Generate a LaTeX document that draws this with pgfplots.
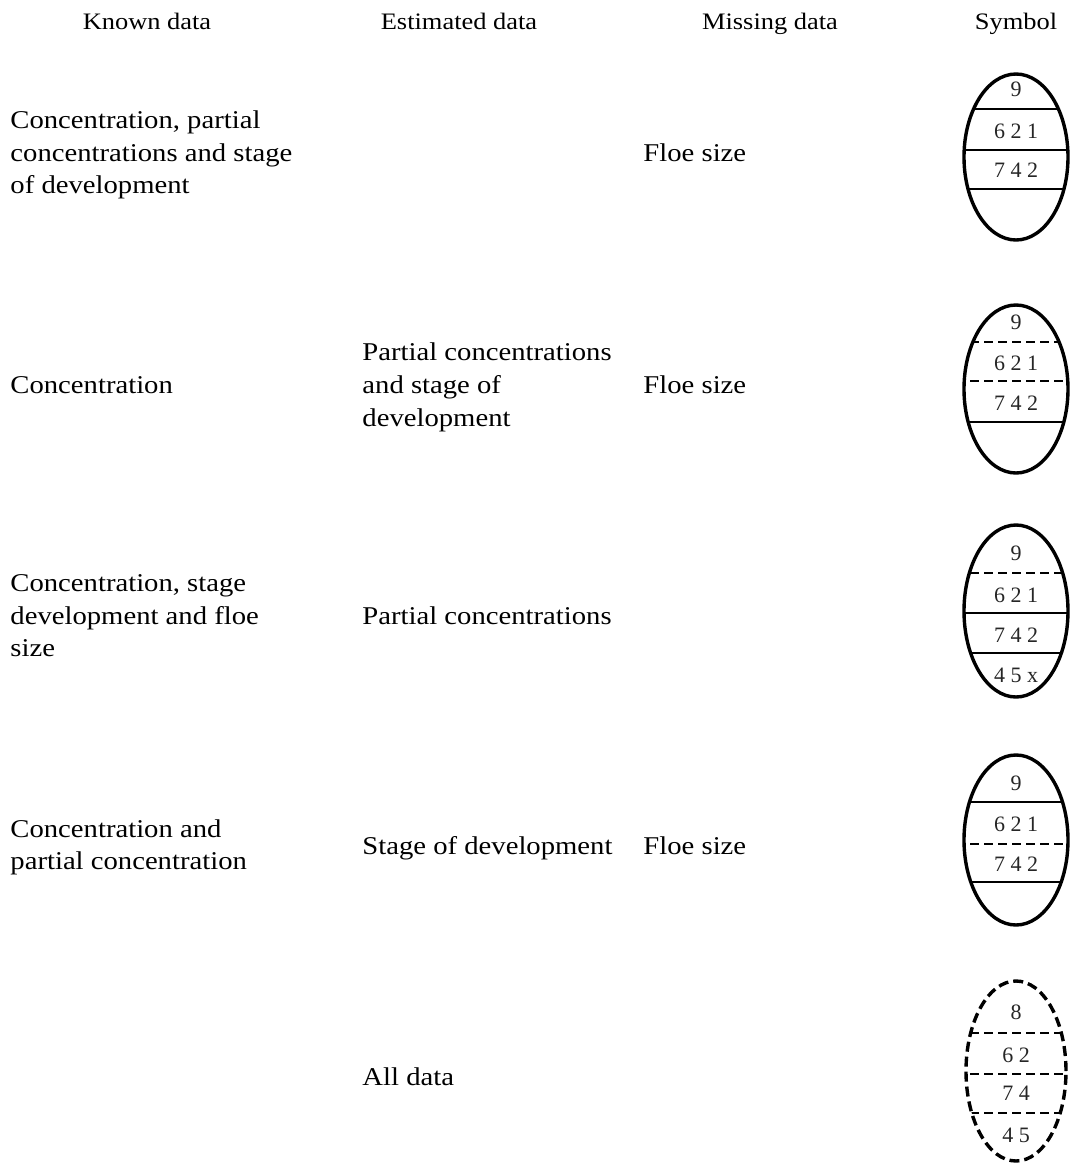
\documentclass[border=0pt]{standalone}
\usepackage{pgfplots}
\pgfplotsset{compat=1.18}
\usepackage{fontspec}
\setmainfont{Liberation Serif}
\newcommand{\bodyfont}{\fontsize{12.8}{16}\selectfont}
\newcommand{\headfont}{\fontsize{11.8}{14}\selectfont}
\newcommand{\eggfont}{\fontsize{11}{12}\selectfont}
\tikzset{
  tx/.style={font=\bodyfont, xscale=1.12, inner sep=0pt, anchor=base west},
  hd/.style={font=\headfont, xscale=1.12, inner sep=0pt, anchor=base},
  eg/.style={font=\eggfont, text=black!85, inner sep=0pt, anchor=center},
  dsh/.style={dash pattern=on 4.5pt off 2.5pt},
  edsh/.style={dash pattern=on 5pt off 2.5pt}}
% egg: center x, center y, x radius (units), y radius (units)
\newcommand{\eggoutline}[5]{%
  \draw[line width=1.7pt,#5] (axis cs:#1,#2) ellipse [x radius=#3*0.5pt, y radius=#4*0.5pt];}
\newcommand{\chord}[6]{% cx cy rx ry y style
  \begin{scope}
    \clip (axis cs:#1,#2) ellipse [x radius=#3*0.5pt, y radius=#4*0.5pt];
    \draw[line width=1.2pt,#6] (axis cs:900,#5) -- (axis cs:1100,#5);
  \end{scope}}
\begin{document}
\begin{tikzpicture}
\begin{axis}[hide axis, scale only axis, width=535pt, height=582pt,
  xmin=0, xmax=1070, ymin=0, ymax=1164, y dir=reverse, clip=false]
\addplot[draw=none] coordinates {(0,0) (1070,1164)};
% headers
\node[hd] at (axis cs:147,29) {Known data};
\node[hd] at (axis cs:459,29) {Estimated data};
\node[hd] at (axis cs:770,29) {Missing data};
\node[hd] at (axis cs:1016,29) {Symbol};
% row 1
\node[tx] at (axis cs:10,128) {Concentration, partial};
\node[tx] at (axis cs:10,161) {concentrations and stage};
\node[tx] at (axis cs:10,193) {of development};
\node[tx] at (axis cs:643,161) {Floe size};
% row 2
\node[tx] at (axis cs:10,393) {Concentration};
\node[tx] at (axis cs:362,360) {Partial concentrations};
\node[tx] at (axis cs:362,393) {and stage of};
\node[tx] at (axis cs:362,426) {development};
\node[tx] at (axis cs:643,393) {Floe size};
% row 3
\node[tx] at (axis cs:10,591) {Concentration, stage};
\node[tx] at (axis cs:10,624) {development and floe};
\node[tx] at (axis cs:10,656) {size};
\node[tx] at (axis cs:362,624) {Partial concentrations};
% row 4
\node[tx] at (axis cs:10,837) {Concentration and};
\node[tx] at (axis cs:10,869) {partial concentration};
\node[tx] at (axis cs:362,854) {Stage of development};
\node[tx] at (axis cs:643,854) {Floe size};
% row 5
\node[tx] at (axis cs:362,1085) {All data};
% egg 1
\eggoutline{1016}{157}{52}{83}{}
\chord{1016}{157}{52}{83}{109}{}
\chord{1016}{157}{52}{83}{150}{}
\chord{1016}{157}{52}{83}{189}{}
\node[eg] at (axis cs:1016,89) {9};
\node[eg] at (axis cs:1016,131) {6 2 1};
\node[eg] at (axis cs:1016,170) {7 4 2};
% egg 2
\eggoutline{1016}{389}{52}{84}{}
\chord{1016}{389}{52}{84}{342}{dsh}
\chord{1016}{389}{52}{84}{381}{dsh}
\chord{1016}{389}{52}{84}{422}{}
\node[eg] at (axis cs:1016,322) {9};
\node[eg] at (axis cs:1016,363) {6 2 1};
\node[eg] at (axis cs:1016,403) {7 4 2};
% egg 3
\eggoutline{1016}{611}{52}{86}{}
\chord{1016}{611}{52}{86}{573}{dsh}
\chord{1016}{611}{52}{86}{613}{}
\chord{1016}{611}{52}{86}{653}{}
\node[eg] at (axis cs:1016,553) {9};
\node[eg] at (axis cs:1016,595) {6 2 1};
\node[eg] at (axis cs:1016,635) {7 4 2};
\node[eg] at (axis cs:1016,675) {4 5 x};
% egg 4
\eggoutline{1016}{840}{52}{85}{}
\chord{1016}{840}{52}{85}{802}{}
\chord{1016}{840}{52}{85}{844}{dsh}
\chord{1016}{840}{52}{85}{882}{}
\node[eg] at (axis cs:1016,783) {9};
\node[eg] at (axis cs:1016,824) {6 2 1};
\node[eg] at (axis cs:1016,864) {7 4 2};
% egg 5
\eggoutline{1016}{1071}{50}{90}{edsh}
\chord{1016}{1071}{50}{90}{1033}{dsh}
\chord{1016}{1071}{50}{90}{1074}{dsh}
\chord{1016}{1071}{50}{90}{1113}{dsh}
\node[eg] at (axis cs:1016,1012) {8};
\node[eg] at (axis cs:1016,1055) {6 2};
\node[eg] at (axis cs:1016,1093) {7 4};
\node[eg] at (axis cs:1016,1135) {4 5};
\end{axis}
\end{tikzpicture}
\end{document}
